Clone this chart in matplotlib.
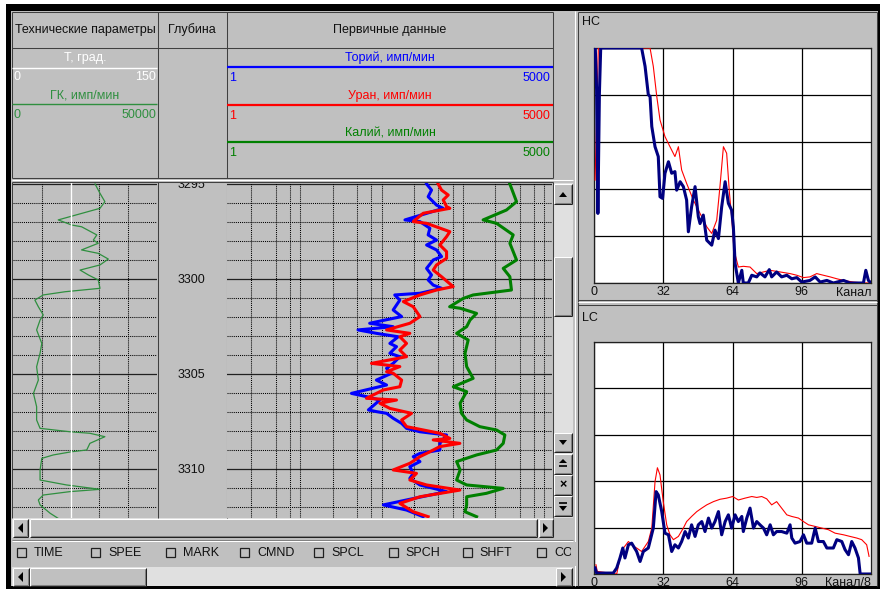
import numpy as np
import matplotlib.pyplot as plt
from matplotlib.patches import Rectangle, Polygon
from matplotlib.transforms import blended_transform_factory

plt.rcParams['font.family'] = ['Liberation Sans', 'DejaVu Sans']

W, H = 880, 589
GREY = '#c0c0c0'
DARK = '#404040'
DITHER = '#e0e0e0'

# --- well log: depth (m) and readings ---
gk_depth = [3295.00, 3295.49, 3295.93, 3296.28, 3296.89, 3297.16, 3297.25, 3297.68, 3297.95, 3298.12,
            3298.47, 3298.65, 3298.95, 3299.26, 3299.53, 3299.79, 3300.05, 3300.49, 3300.67, 3300.84,
            3301.11, 3301.46, 3301.89, 3302.16, 3302.68, 3303.39, 3303.91, 3304.62, 3305.32, 3306.02,
            3306.72, 3307.42, 3307.86, 3308.04, 3308.12, 3308.30, 3308.65, 3309.00, 3309.09, 3309.26,
            3309.44, 3310.05, 3310.58, 3310.84, 3311.07, 3311.19, 3311.37, 3311.63, 3311.89, 3312.33,
            3312.60]
gk_value = [28500, 30200, 31900, 30200, 15700, 20400, 23800, 29100, 27900, 29600,
            23800, 29600, 33100, 30200, 23300, 26200, 29600, 30200, 18100, 10500,
            7600, 8800, 10500, 9400, 8200, 10000, 9400, 8200, 8800, 7100,
            8200, 8200, 9400, 19800, 26700, 31900, 26700, 25600, 20400, 14000,
            10000, 9400, 9400, 18600, 30200, 19800, 10500, 8800, 9400, 12900,
            15700]

t_depth = [3294.9, 3312.7]
t_value = [60, 60]

th_depth = [3295.00, 3295.32, 3295.67, 3296.11, 3296.28, 3296.89, 3296.98, 3297.33, 3297.68, 3297.95,
            3298.21, 3298.47, 3298.82, 3299.00, 3299.44, 3299.79, 3300.05, 3300.32, 3300.49, 3300.75,
            3300.84, 3301.11, 3301.63, 3301.98, 3302.16, 3302.33, 3302.51, 3302.68, 3302.86, 3303.04,
            3303.39, 3303.56, 3303.91, 3304.09, 3304.44, 3304.70, 3304.96, 3305.32, 3305.58, 3306.02,
            3306.19, 3306.37, 3306.89, 3306.98, 3307.07, 3307.33, 3307.60, 3307.86, 3308.04, 3308.21,
            3308.65, 3309.00, 3309.18, 3309.35, 3309.61, 3309.88, 3310.23, 3310.49, 3310.84, 3311.19,
            3311.63, 3311.89, 3312.16, 3312.51]
th_value = [286, 329, 299, 379, 458, 155, 237, 314, 299, 379,
            286, 379, 437, 345, 286, 329, 299, 345, 437, 237,
            116, 134, 111, 141, 88, 57, 111, 41, 69, 128,
            101, 122, 101, 134, 111, 92, 106, 69, 92, 34,
            52, 76, 55, 69, 92, 111, 141, 162, 237, 504,
            417, 417, 237, 196, 237, 178, 196, 178, 237, 504,
            162, 84, 162, 260]

u_depth = [3295.00, 3295.32, 3295.58, 3295.84, 3296.19, 3296.28, 3296.54, 3296.98, 3297.07, 3297.51,
           3297.77, 3298.21, 3298.56, 3298.91, 3299.26, 3299.53, 3299.88, 3300.40, 3300.58, 3300.84,
           3301.19, 3301.46, 3301.98, 3302.33, 3302.68, 3302.86, 3303.04, 3303.39, 3303.74, 3304.09,
           3304.44, 3304.61, 3304.88, 3304.96, 3305.32, 3305.67, 3305.84, 3306.28, 3306.37, 3306.54,
           3306.81, 3307.07, 3307.42, 3307.77, 3308.12, 3308.39, 3308.47, 3308.65, 3308.82, 3309.18,
           3309.35, 3309.70, 3310.05, 3310.23, 3310.58, 3310.84, 3311.11, 3311.46, 3311.81, 3312.25,
           3312.51]
u_value = [397, 437, 528, 458, 504, 553, 260, 196, 286, 553,
           504, 417, 504, 504, 379, 345, 437, 608, 379, 237,
           148, 196, 237, 178, 92, 178, 134, 162, 134, 162,
           60, 134, 92, 111, 141, 134, 84, 52, 122, 76,
           101, 187, 141, 162, 417, 553, 345, 735, 417, 286,
           237, 178, 111, 215, 178, 286, 735, 237, 134, 196,
           299]

k_depth = [3295.00, 3295.93, 3296.37, 3296.89, 3297.07, 3297.68, 3298.12, 3299.00, 3299.44, 3299.88,
           3300.58, 3300.84, 3301.02, 3301.46, 3301.54, 3301.81, 3302.16, 3302.51, 3302.86, 3303.21,
           3303.91, 3304.61, 3305.23, 3305.67, 3305.93, 3306.54, 3307.07, 3307.42, 3307.77, 3307.95,
           3308.21, 3308.65, 3309.00, 3309.26, 3309.61, 3310.05, 3310.58, 3310.84, 3311.02, 3311.28,
           3311.46, 3311.89, 3312.25, 3312.51]
k_value = [3030, 3660, 2750, 1420, 2080, 3330, 3030, 3660, 2510, 3030,
           3170, 1070, 810, 550, 740, 1180, 980, 890, 670, 930,
           850, 890, 1070, 610, 890, 740, 770, 890, 1290, 2080,
           2630, 2510, 2080, 1180, 670, 740, 670, 890, 2510, 1560,
           890, 890, 850, 1180]

depth_labels = [3295, 3300, 3305, 3310]

# --- spectra (channel vs counts) ---
hc_blue_ch = [0.6, 1.2, 1.8, 2.5, 3.1, 22.0, 23.6, 25.1, 25.9, 26.7, 28.2, 29.7, 30.5, 31.7, 32.8,
              34.4, 35.9, 37.4, 38.2, 39.8, 41.3, 42.8, 43.6, 45.1, 46.7, 48.2, 49.0, 50.5, 52.1, 54.4,
              55.9, 57.5, 59.0, 60.6, 62.1, 63.6, 64.4, 65.2, 66.7, 68.3, 69.0, 71.3, 72.9, 75.2, 76.7,
              79.0, 81.0, 82.1, 84.4, 86.7, 89.1, 91.4, 93.7, 96.0, 99.8, 102.2, 104.5, 107.6, 110.6,
              115.3, 118.3, 124.5, 125.6, 126.8, 128]
hc_blue = [1000, 822, 296, 808, 1000, 1000, 922, 801, 794, 666, 580, 538, 367, 360, 467,
           516, 467, 474, 395, 431, 410, 353, 218, 324, 410, 282, 253, 289, 182, 161,
           225, 189, 324, 431, 339, 310, 239, 83, 0, 54, 0, 0, 33, 26, 43,
           26, 57, 26, 47, 26, 33, 18, 23, 4, 11, 26, 4, 11, 0,
           11, 0, 0, 54, 11, 0]
hc_red_ch = [0.5, 2.0, 25.9, 27.4, 29.0, 30.5, 32.8, 35.1, 37.4, 39.0, 40.5, 42.8, 45.9, 49.0,
             52.1, 54.4, 56.7, 58.2, 59.8, 61.3, 62.6, 63.6, 64.7, 66.7, 69.0, 72.1, 75.2, 78.3,
             81.4, 86.0, 90.6, 93.7, 96.8, 99.8, 102.9, 106.0, 109.1, 112.2, 115.3, 119.9, 124.5, 128]
hc_red = [438, 1000, 1000, 922, 794, 694, 623, 580, 538, 580, 481, 424, 353, 296,
          239, 211, 267, 410, 580, 552, 381, 282, 139, 68, 71, 68, 40, 47,
          54, 47, 40, 33, 23, 26, 40, 33, 26, 18, 11, 4, 0, 0]

lc_blue_ch = [0.5, 1.2, 8.9, 10.5, 12.0, 13.3, 14.3, 15.9, 17.4, 19.7, 21.3, 22.8, 25.1, 27.4, 28.7,
              29.7, 31.3, 32.8, 34.4, 35.9, 37.4, 39.0, 40.5, 42.1, 43.6, 45.1, 46.7, 48.2, 49.8, 51.3,
              52.9, 54.4, 55.9, 57.5, 59.0, 60.6, 62.1, 63.6, 65.2, 66.7, 68.3, 69.0, 70.6, 72.1, 73.7,
              75.2, 76.7, 78.3, 79.8, 81.4, 82.9, 84.4, 86.7, 89.1, 90.6, 91.4, 92.9, 95.2, 96.8, 98.3,
              100.6, 102.2, 103.7, 106.0, 107.6, 110.6, 112.2, 114.5, 116.0, 117.6, 119.1, 120.6, 122.2,
              123.0, 128]
lc_blue = [26, 4, 4, 26, 69, 112, 69, 126, 133, 97, 54, 97, 112, 198, 355,
           341, 269, 176, 169, 97, 126, 112, 140, 183, 155, 212, 162, 212, 226, 183,
           241, 198, 226, 269, 169, 226, 255, 198, 255, 226, 248, 183, 241, 284, 198,
           226, 212, 198, 169, 212, 169, 183, 183, 176, 212, 155, 133, 140, 169, 133,
           133, 198, 140, 140, 112, 112, 148, 140, 105, 83, 140, 112, 69,
           0, 0]
lc_red_ch = [0.9, 1.5, 10.5, 12.0, 13.6, 15.9, 18.2, 19.7, 22.0, 25.1, 26.7, 28.2, 29.3, 30.5, 32.0,
             33.6, 35.1, 36.7, 39.0, 41.3, 42.8, 45.1, 47.5, 49.8, 52.1, 55.2, 58.2, 61.3, 64.1, 66.7,
             69.8, 72.9, 75.2, 77.5, 79.8, 82.1, 84.4, 86.7, 89.1, 91.4, 94.5, 96.8, 99.1, 102.2, 105.2,
             108.3, 111.4, 115.3, 118.3, 121.4, 123.7, 126.0, 127.1]
lc_red = [40, 11, 0, 69, 112, 140, 119, 112, 97, 140, 198, 398, 458, 427, 312,
          212, 169, 148, 162, 198, 226, 248, 269, 284, 298, 312, 322, 327, 334, 319,
          327, 334, 330, 334, 324, 298, 312, 284, 255, 248, 241, 226, 212, 205, 198,
          191, 176, 169, 162, 155, 148, 126, 76]

channel_ticks = [0, 32, 64, 96]
flags = ['TIME', 'SPEE', 'MARK', 'CMND', 'SPCL', 'SPCH', 'SHFT', 'CO']

fig = plt.figure(figsize=(W / 100, H / 100), dpi=100, facecolor='white')
bg = fig.add_axes([0, 0, 1, 1])
bg.set_xlim(0, W)
bg.set_ylim(H, 0)
bg.axis('off')


def px_axes(x0, y0, x1, y1):
    return fig.add_axes([x0 / W, 1 - y1 / H, (x1 - x0) / W, (y1 - y0) / H])


def rect(x0, y0, x1, y1, fc, ec='none', lw=0.0, z=1):
    bg.add_patch(Rectangle((x0, y0), x1 - x0, y1 - y0, facecolor=fc,
                           edgecolor=ec, linewidth=lw, zorder=z))


def seg(x0, y0, x1, y1, c=DARK, lw=0.75, z=3):
    bg.plot([x0, x1], [y0, y1], color=c, lw=lw, zorder=z, solid_capstyle='butt')


def bevel(x0, y0, x1, y1):
    rect(x0, y0, x1, y1, GREY, z=2)
    seg(x0, y0, x1, y0, 'white')
    seg(x0, y0, x0, y1, 'white')
    seg(x0, y1, x1, y1, '#202020')
    seg(x1, y0, x1, y1, '#202020')
    seg(x0 + 1, y1 - 1, x1 - 1, y1 - 1, '#808080')
    seg(x1 - 1, y0 + 1, x1 - 1, y1 - 1, '#808080')


def tri(pts):
    bg.add_patch(Polygon(pts, closed=True, facecolor='black', edgecolor='none', zorder=4))


# window frame
rect(6, 4, W, H, 'black', z=0)
rect(11, 11, 878, 586, GREY, z=0.5)

# ---------- header ----------
for y in (12, 48, 178):
    seg(12, y, 553, y)
for x in (12, 158, 227, 553):
    seg(x, 12, x, 178)
hdr = dict(fontsize=9, color='#101010', ha='center', va='center', zorder=5)
bg.text(85, 30, 'Технические параметры', **hdr)
bg.text(192, 30, 'Глубина', **hdr)
bg.text(390, 30, 'Первичные данные', **hdr)

small = dict(fontsize=9, va='center', zorder=5)
bg.text(85, 58, 'Т, град.', color='white', ha='center', **small)
seg(12, 68, 157, 68, 'white', lw=1.0)
bg.text(14, 77, '0', color='white', ha='left', **small)
bg.text(156, 77, '150', color='white', ha='right', **small)
bg.text(85, 95, 'ГК, имп/мин', color='#2f8f3f', ha='center', **small)
seg(12, 104, 157, 104, '#2f8f3f', lw=1.0)
bg.text(14, 115, '0', color='#2f8f3f', ha='left', **small)
bg.text(156, 115, '50000', color='#2f8f3f', ha='right', **small)

legend_rows = [('Торий, имп/мин', '#0000ff', 58), ('Уран, имп/мин', '#ff0000', 96),
               ('Калий, имп/мин', '#008000', 133)]
for name, col, y in legend_rows:
    bg.text(390, y, name, color=col, ha='center', **small)
    seg(227, y + 9, 553, y + 9, col, lw=1.6)
    bg.text(229, y + 20, '1', color=col, ha='left', **small)
    bg.text(550, y + 20, '5000', color=col, ha='right', **small)

# ---------- track frame ----------
seg(12, 180, 573, 180, 'white')
seg(12, 182, 553, 182)
for x in (12, 158, 227, 553):
    seg(x, 182, x, 518)

ylo, yhi = 3295 - 1 / 19, 3295 + 334 / 19
depth_grid = np.arange(3295, 3313)

# left track: GK + temperature
axL = px_axes(13, 183, 157, 518)
axL.set_facecolor(GREY)
axL.set_xlim(0, 50000)
axL.set_ylim(yhi, ylo)
for d in depth_grid:
    if d % 5:
        axL.axhline(d, color='black', lw=0.75, ls=(0, (1, 1)))
    else:
        axL.axhline(d, color='#202020', lw=0.9)
for v in (10000, 20000, 30000, 40000):
    axL.axvline(v, color='black', lw=0.75, ls=(0, (1, 1)))
axL.plot(gk_value, gk_depth, color='#2f8f3f', lw=0.9, zorder=4)
axT = axL.twiny()
axT.set_xlim(0, 150)
axT.plot(t_value, t_depth, color='white', lw=1.0, zorder=3)
for a in (axL, axT):
    a.set_xticks([])
    a.set_yticks([])
    for s in a.spines.values():
        s.set_visible(False)

# depth column
axD = px_axes(159, 183, 227, 518)
axD.set_facecolor(GREY)
axD.set_xlim(0, 1)
axD.set_ylim(yhi, ylo)
axD.axis('off')
tr = blended_transform_factory(axD.transAxes, axD.transData)
for d in depth_labels:
    axD.text(0.48, d + 0.05, str(d), transform=tr, ha='center', va='center',
             fontsize=9, color='#101010', clip_on=True)

# right track: spectral gamma, log scale
axR = px_axes(227, 183, 552, 518)
axR.set_facecolor(GREY)
axR.set_xscale('log')
axR.set_xlim(1, 10000)
axR.set_ylim(yhi, ylo)
for d in depth_grid:
    if d % 5:
        axR.axhline(d, color='black', lw=0.75, ls=(0, (1, 1)))
    else:
        axR.axhline(d, color='#202020', lw=0.9)
for e in range(4):
    for m in (2, 4, 6, 8):
        axR.axvline(m * 10 ** e, color='black', lw=0.75, ls=(0, (1, 1)))
axR.plot(th_value, th_depth, color='#0000ff', lw=2.2, zorder=4)
axR.plot(u_value, u_depth, color='#ff0000', lw=2.2, zorder=5)
axR.plot(k_value, k_depth, color='#008000', lw=2.2, zorder=4)
axR.set_xticks([], minor=True)
axR.set_xticks([])
axR.set_yticks([])
for s in axR.spines.values():
    s.set_visible(False)

# vertical scrollbar with extra buttons
rect(553, 183, 573, 518, DITHER, z=1)
bevel(554, 184, 572, 204)
tri([(559, 197), (567, 197), (563, 192)])
bevel(554, 257, 572, 316)
bevel(554, 433, 572, 452)
tri([(559, 440), (567, 440), (563, 445)])
bevel(554, 454, 572, 474)
tri([(559, 463), (567, 463), (563, 459)])
seg(559, 466, 567, 466, 'black', lw=1.2, z=5)
bevel(554, 475, 572, 495)
bg.text(563, 485, '×', fontsize=9, ha='center', va='center', color='black',
        fontweight='bold', zorder=5)
bevel(554, 496, 572, 516)
seg(559, 503, 567, 503, 'black', lw=1.2, z=5)
tri([(559, 506), (567, 506), (563, 511)])

# horizontal scrollbar under the tracks
rect(12, 518, 553, 538, DITHER, z=1)
bevel(13, 519, 28, 537)
tri([(18, 528), (23, 523), (23, 533)])
bevel(30, 519, 537, 537)
bevel(539, 519, 553, 537)
tri([(548, 528), (543, 523), (543, 533)])

# flag checkboxes
seg(12, 540, 573, 540, '#808080')
seg(12, 541, 573, 541, 'white')
for i, name in enumerate(flags):
    x = 17 + i * 74.3
    rect(x, 548, x + 9, 557, GREY, ec='#202020', lw=0.9, z=3)
    bg.text(x + 17, 553, name, fontsize=9, ha='left', va='center', color='#101010',
            zorder=3, clip_on=True)
rect(571, 542, 578, 566, GREY, z=4)

# bottom scrollbar
rect(12, 567, 573, 586, DITHER, z=1)
bevel(13, 568, 29, 586)
tri([(18, 577), (23, 572), (23, 582)])
bevel(30, 568, 146, 586)
bevel(556, 568, 572, 586)
tri([(566, 577), (561, 572), (561, 582)])

# ---------- spectrum windows ----------
seg(575, 11, 575, 586, 'white')
seg(578, 12, 578, 586, DARK)
seg(578, 12, 877, 12, DARK)
seg(877, 12, 877, 586, DARK)
seg(578, 300, 877, 300, DARK)
seg(578, 302, 877, 302, 'white')
seg(578, 305, 877, 305, DARK)
bg.text(582, 22, 'HC', fontsize=9, ha='left', va='center', color='#101010', zorder=5)
bg.text(582, 318, 'LC', fontsize=9, ha='left', va='center', color='#101010', zorder=5)


def spectrum(box, ch_b, val_b, ch_r, val_r, unit):
    ax = px_axes(*box)
    ax.set_facecolor('white')
    ax.set_xlim(0, 128)
    ax.set_ylim(0, 1000)
    ax.set_xticks(channel_ticks)
    ax.set_xticklabels([str(c) for c in channel_ticks], fontsize=9, color='#101010')
    ax.set_yticks(np.arange(0, 1001, 200))
    ax.set_yticklabels([])
    ax.tick_params(length=0, pad=2)
    ax.grid(True, color='black', lw=0.9)
    ax.set_axisbelow(True)
    for s in ax.spines.values():
        s.set_color('#202020')
        s.set_linewidth(0.9)
    ax.plot(ch_r, val_r, color='#ff0000', lw=0.8, zorder=3)
    ax.plot(ch_b, val_b, color='#000080', lw=2.2, zorder=4)
    ax.text(128, -0.015, unit, transform=ax.get_xaxis_transform(), ha='right', va='top',
            fontsize=9, color='#101010')
    return ax


spectrum((594, 48, 871, 283), hc_blue_ch, hc_blue, hc_red_ch, hc_red, 'Канал')
spectrum((594, 342, 871, 574), lc_blue_ch, lc_blue, lc_red_ch, lc_red, 'Канал/8')

fig.savefig('out.png', dpi=100, facecolor='white')
